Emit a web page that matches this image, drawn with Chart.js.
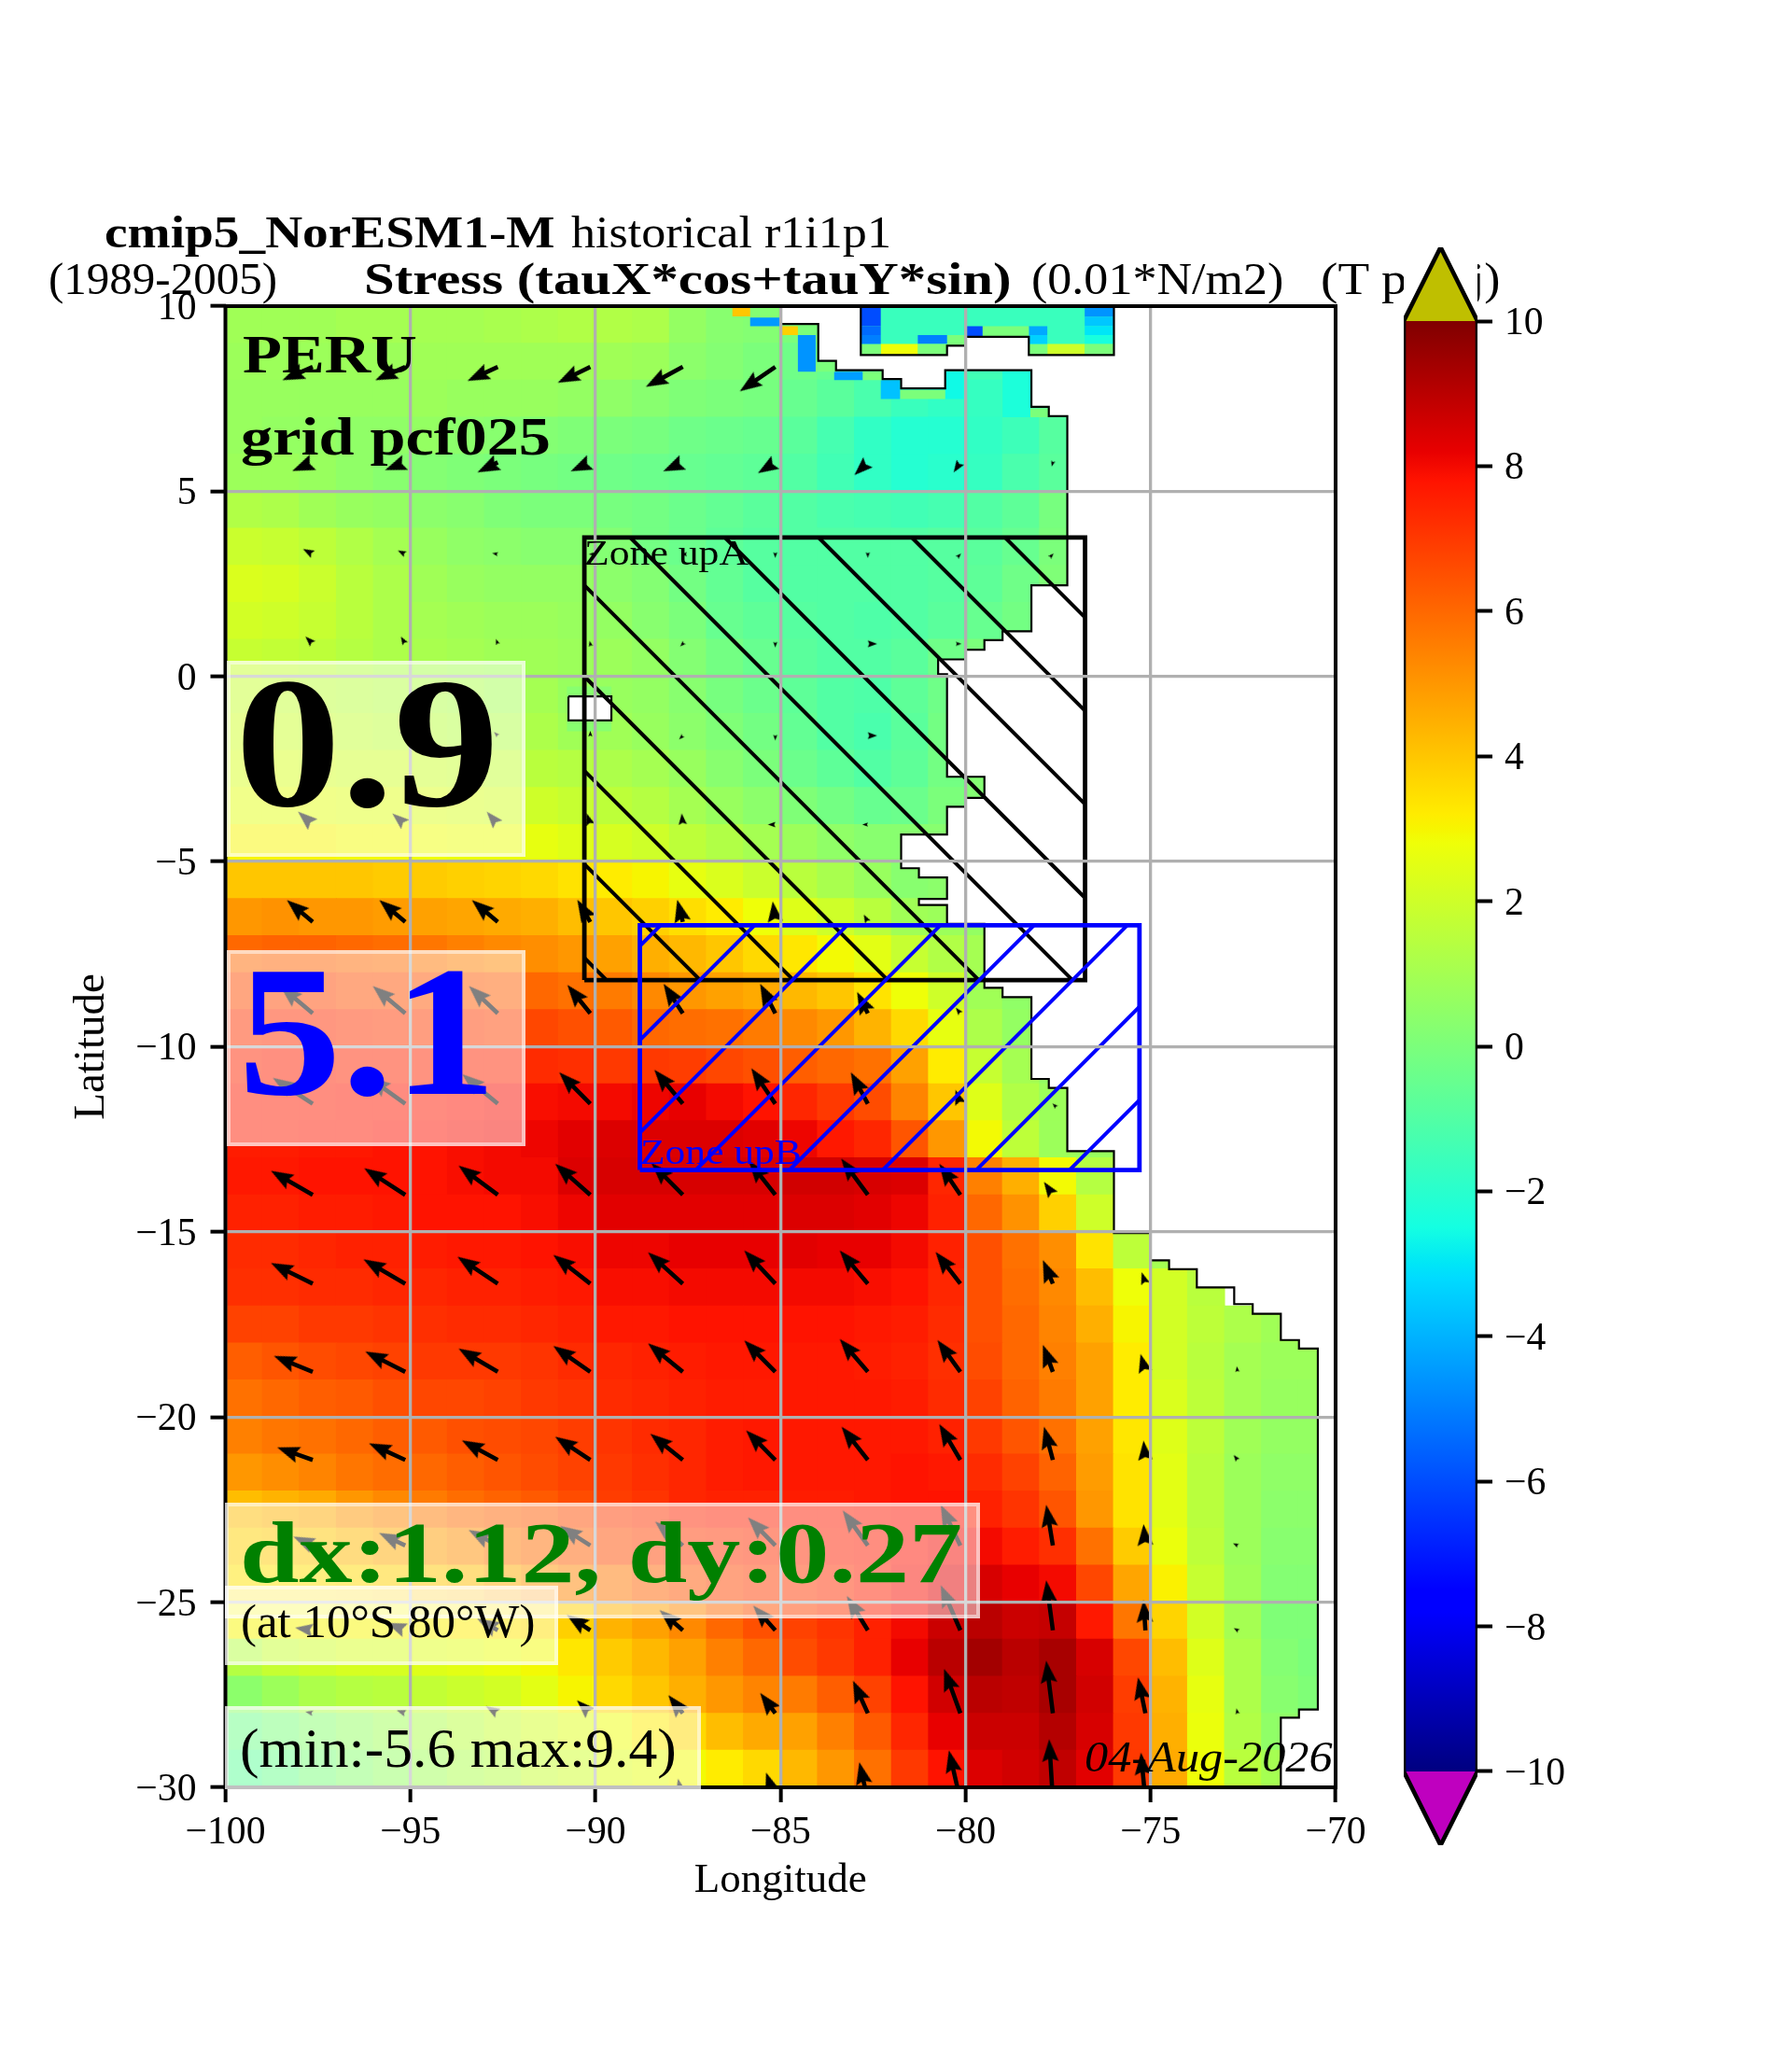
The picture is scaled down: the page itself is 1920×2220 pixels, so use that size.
<!DOCTYPE html>
<html>
<head>
<meta charset="utf-8">
<title>cmip5_NorESM1-M stress map</title>
<script src="https://cdn.jsdelivr.net/npm/chart.js@4"></script>
<style>
  body { margin: 0; background: #fff; }
  #page { position: relative; width: 1920px; height: 2220px; overflow: hidden; font-family: "Liberation Serif", serif; }
  canvas { position: absolute; left: 0; top: 0; }
  .label { position: absolute; white-space: nowrap; transform-origin: 0 0; }
  .box { position: absolute; box-sizing: border-box; background: rgba(255,255,255,0.5); border: 4px solid rgba(255,255,255,0.5); }
</style>
</head>
<body>
<div id="page">
  <canvas id="mapChart" width="1920" height="2220" style="z-index:0"></canvas>
  <div id="overMap" style="position:absolute;left:0;top:0;z-index:1"></div>
  <canvas id="colorBar" width="1920" height="2220" style="z-index:2"></canvas>
</div>
<script>
const N = null;

// cell centres of the map
const lons = [-99.5,-98.5,-97.5,-96.5,-95.5,-94.5,-93.5,-92.5,-91.5,-90.5,-89.5,-88.5,-87.5,-86.5,-85.5,-84.5,-83.5,-82.5,-81.5,-80.5,-79.5,-78.5,-77.5,-76.5,-75.5,-74.5,-73.5,-72.5,-71.5,-70.5];
const lats = [9.5,8.5,7.5,6.5,5.5,4.5,3.5,2.5,1.5,0.5,-0.5,-1.5,-2.5,-3.5,-4.5,-5.5,-6.5,-7.5,-8.5,-9.5,-10.5,-11.5,-12.5,-13.5,-14.5,-15.5,-16.5,-17.5,-18.5,-19.5,-20.5,-21.5,-22.5,-23.5,-24.5,-25.5,-26.5,-27.5,-28.5,-29.5];

// one row per latitude; rows stop where the land starts
const stress = [
  [.9,.9,.9,1,1,1,1,1.1,1.2,1.3,1.3,1.2,.6,.3,.2,0],
  [.8,.8,.8,.8,.8,.9,.9,.9,.9,.9,.9,.8,.4,.2,0,-.3,-.5,-.9,-1.2,-1.3,-1.4,-1.6],
  [.7,.7,.7,.7,.7,.8,.7,.7,.7,.6,.5,.3,.1,0,-.1,-.5,-.8,-1.2,-1.6,-1.8,-1.7,-1.6,-1.2],
  [.7,.6,.6,.5,.5,.6,.4,.3,.2,.1,0,-.1,-.3,-.4,-.5,-.8,-1.3,-1.8,-2.1,-2.1,-1.8,-1.5,-.9],
  [.8,.8,.7,.5,.3,.2,.1,0,-.1,-.2,-.3,-.4,-.5,-.6,-.7,-1,-1.4,-1.8,-2.1,-2,-1.7,-1.2,-.8],
  [1.3,1.2,.9,.7,.6,.4,.3,.1,0,0,-.1,-.2,-.4,-.6,-.8,-1,-1.2,-1.3,-1.4,-1.3,-1,-.7,-.1],
  [1.9,1.8,1.6,1.3,1,.7,.5,.4,.3,.3,.2,-.2,-.4,-.7,-.9,-1,-1,-1,-1,-.9,-.8,-.5,0],
  [2.3,2.2,1.9,1.5,1.2,.9,.7,.6,.6,.6,.4,.2,-.2,-.6,-.9,-1,-1,-1,-1,-.9,-.7,-.3,.1],
  [2.1,2,1.8,1.5,1.2,1,.9,.8,.8,.7,.6,.3,0,-.5,-.7,-.9,-1,-1.1,-1,-.8,-.5,-.2],
  [1.8,1.7,1.6,1.4,1.2,1.1,1,.9,.9,.8,.8,.6,.2,-.2,-.5,-.8,-1,-1,-.8,-.3,0],
  [1.8,1.7,1.6,1.5,1.4,1.3,1.2,1,1,.7,.7,.6,.3,-.1,-.4,-.7,-1,-1.1,-.7,-.3],
  [2,1.9,1.8,1.7,1.6,1.5,1.4,1.3,1.2,.9,.9,.7,.4,.1,-.2,-.6,-1,-1.2,-.8,-.2],
  [2.2,2.2,2.1,2,2,1.9,1.8,1.7,1.5,1.4,1.2,1,.7,.3,0,-.4,-.7,-1,-.7,-.2,.2],
  [2.5,2.5,2.5,2.4,2.4,2.3,2.2,2.1,2,1.8,1.6,1.4,1,.7,.4,.1,-.2,-.5,-.4,0,.2],
  [3,3,3,2.9,2.9,2.8,2.7,2.7,2.6,2.4,2.2,2,1.6,1.3,1,.8,.5,.3,.3,.3],
  [4,4,4,4,3.9,3.9,3.8,3.7,3.6,3.4,3.2,3,2.6,2.3,1.9,1.5,1.1,.7,.3,.4],
  [5,5.1,5,5,4.9,4.8,4.7,4.6,4.5,4.2,4,3.8,3.5,3.2,2.8,2.4,2,1.5,.9,.8,.6],
  [6,6.1,6.1,6,5.9,5.7,5.5,5.3,5.2,5,4.8,4.5,4.3,4,3.6,3.3,2.9,2.5,1.8,1.3,1],
  [6.6,6.7,6.7,6.5,6.5,6.4,6.3,6.2,6,5.8,5.6,5.3,5,4.8,4.6,4.3,4,3.4,2.8,2,.9,.5],
  [7.1,7.2,7.2,7.1,7,6.9,6.9,6.8,6.7,6.5,6.3,6,5.9,5.8,5.6,5.3,5,4.4,3.6,2.6,1.2,.6],
  [7.4,7.5,7.5,7.4,7.4,7.4,7.4,7.4,7.3,7.2,7,7,6.9,6.7,6.5,6.2,6,5.8,4.8,3.2,1.8,1,.6],
  [7.6,7.6,7.6,7.7,7.7,7.7,7.8,7.9,7.9,8,8,8.1,8.2,8,7.8,7.4,7,6.6,5.4,4,2.4,1.3,.8],
  [7.6,7.6,7.7,7.7,7.8,7.8,7.9,8,8.1,8.3,8.4,8.4,8.4,8.4,8.3,8.1,7.7,7.4,6.4,5,2.9,1.6,.8,.7],
  [7.7,7.7,7.8,7.8,7.8,7.8,7.9,8,8,8.4,8.5,8.5,8.5,8.5,8.5,8.6,8.6,8.5,8.4,7.4,5.5,4.5,2.9,1.4],
  [7.5,7.5,7.6,7.6,7.7,7.8,7.8,7.8,7.9,8.1,8.3,8.3,8.3,8.3,8.3,8.4,8.4,8.3,8.1,7.5,6,5.1,3.8,2],
  [7.3,7.3,7.4,7.5,7.5,7.6,7.7,7.7,7.8,7.9,8.1,8.1,8.2,8.2,8.2,8.3,8.2,8.2,8,7.5,6.5,5.8,5.2,3.4,1.6,1],
  [7.2,7.2,7.3,7.3,7.4,7.4,7.5,7.5,7.6,7.7,7.9,7.9,8,8,8,8,8,7.9,7.8,7.4,6.5,5.9,5.3,4.2,2.8,2.1,1.5],
  [6.8,6.8,7,7,7.1,7.2,7.3,7.3,7.4,7.5,7.7,7.7,7.8,7.8,7.8,7.8,7.8,7.7,7.6,7.3,6.5,6,5.4,4.5,3,2.1,1.6,1.2,.9],
  [6.2,6.4,6.6,6.7,6.8,7,7,7,7.1,7.3,7.4,7.5,7.6,7.7,7.7,7.7,7.7,7.6,7.5,7.2,6.6,6,5.5,4.8,3.2,2.1,1.5,1,.8,.8],
  [5.8,6,6.2,6.3,6.5,6.7,6.7,6.8,7,7.1,7.3,7.4,7.5,7.6,7.6,7.7,7.7,7.7,7.6,7.3,6.8,6.1,5.6,4.8,3.2,2.3,1.6,1,.7,.7],
  [5.5,5.7,5.8,6,6.2,6.3,6.5,6.6,6.7,6.9,7.1,7.3,7.4,7.6,7.7,7.7,7.7,7.7,7.7,7.5,7,6.4,5.8,4.8,3.3,2.4,1.6,.9,.6,.6],
  [5,5.2,5.4,5.7,5.9,6,6.2,6.4,6.6,6.8,7,7.2,7.4,7.6,7.7,7.7,7.7,7.7,7.8,7.7,7.3,6.8,6.1,4.9,3.4,2.5,1.5,.8,.5,.5],
  [4.2,4.4,4.6,5,5.3,5.6,5.9,6.1,6.3,6.6,6.9,7.1,7.4,7.5,7.5,7.6,7.6,7.7,7.8,7.8,7.5,7.1,6.4,5,3.4,2.5,1.5,.8,.4,.4],
  [3.8,3.9,4,4.3,4.6,4.9,5.2,5.6,5.9,6.2,6.6,6.8,7,7.1,7.2,7.3,7.5,7.6,7.8,8,8,7.6,7.2,5.8,3.9,2.7,1.6,.8,.3,.3],
  [3.4,3.4,3.5,3.6,3.8,4,4.2,4.6,5,5.4,5.7,6.1,6.4,6.7,6.9,7,7.2,7.5,7.9,8.3,8.5,8.2,8,6.7,4.7,3.1,1.8,.9,.2,.2],
  [3,3,3,3,3,3.1,3.2,3.3,3.5,3.8,4.4,4.8,5.3,6,6.5,6.8,7.1,7.5,8,8.7,9,8.7,8.8,7.7,5.7,3.7,2.1,1,.1,.1],
  [1.4,1.8,2,2.2,2.2,2.4,2.5,2.7,2.9,3.3,3.9,4.3,4.8,5.5,6,6.6,7,7.5,8.2,9,9.4,9,9.3,8.5,6.7,4.2,2.4,1.2,.2,0],
  [.4,.8,1.2,1.4,1.5,1.7,1.9,2.1,2.5,3,3.6,4,4.5,5,5.4,5.6,6.2,6.8,7.8,8.6,9,8.9,9.3,8.6,6.9,4.4,2.6,1.2,.3,.1],
  [-.3,0,.3,.6,.9,1.2,1.5,1.8,2.1,2.4,2.8,3.2,3.6,4.2,4.6,4.8,5.5,6.3,7.4,8.2,8.7,8.7,9.1,8.5,7,4.5,2.7,1.3,.5],
  [-.7,-.4,0,.3,.6,.9,1.2,1.4,1.8,2,2.4,2.6,2.9,3.2,3.6,4.3,5,5.8,7,7.8,8.4,8.6,8.9,8.3,7,4.6,2.8,1.5,1]
];

// small coastal cells: [lon west, lon east, lat south, lat north, value]
const coastCells = [
  [-86.3,-85.82,9.72,10,4], [-85.82,-85,9.46,9.69,-4.5], [-85,-84.53,9.22,9.46,3.8], [-84.53,-83.98,9.22,9.46,0],
  [-84.53,-84.05,8.23,9.22,-4.6], [-84.05,-83.5,8.23,8.5,0], [-83.55,-82.78,8,8.23,-4.4], [-82.78,-82.24,8,8.23,0],
  [-82.29,-81.77,7.49,8,-3.7], [-81.77,-80.55,7.49,7.73,0], [-80.55,-80.05,7.49,8.23,-2.6], [-79,-78.25,7,8.23,-2.3],
  [-78.25,-77.77,7,7.24,0], [-90.77,-89.57,-1.48,-0.27,0.3]
];
// sea patch along the top edge
const patchLine = [[-82.83,10],[-82.83,8.68],[-80.5,8.68],[-80.5,8.93],[-80,8.93],[-80,9.17],[-78.29,9.17],[-78.29,8.68],[-75.99,8.68],[-75.99,10]];
const patchValue = -1.6;
const patchCells = [
  [-82.83,-82.29,9.46,10,-6], [-82.83,-82.29,9.22,9.46,-5.4], [-82.83,-82.29,8.98,9.22,-5], [-82.83,-82.29,8.68,8.98,0],
  [-82.29,-81.29,8.68,8.98,2.8], [-81.29,-80.5,8.68,8.98,0], [-81.29,-80.5,8.98,9.22,-5], [-80.5,-80,8.93,9.22,0],
  [-80,-79.54,9.17,9.46,-6], [-79.54,-78.29,9.17,9.46,0], [-78.29,-77.79,9.22,9.46,-4.2], [-78.29,-77.79,8.98,9.22,-3.4],
  [-78.29,-77.79,8.68,8.98,0], [-77.79,-76.78,8.68,8.98,2], [-76.78,-75.99,8.68,8.98,0], [-76.78,-75.99,8.98,9.22,-2.4],
  [-76.78,-75.99,9.22,9.46,-3], [-76.78,-75.99,9.46,9.71,-3.6], [-76.78,-75.99,9.71,10,-4.6]
];
const islandLine = [[-90.73,-0.54],[-89.57,-0.54],[-89.57,-1.19],[-90.73,-1.19],[-90.73,-0.54]];

const coastLine = [[-84.99,10],[-84.99,9.52],[-83.98,9.52],[-83.98,8.52],[-83.5,8.52],[-83.5,8.27],[-82.24,8.27],[-82.24,8.03],[-81.74,8.03],[-81.74,7.78],[-80.55,7.78],[-80.55,8.27],[-78.22,8.27],[-78.22,7.28],[-77.75,7.28],[-77.75,7.03],[-77.25,7.03],[-77.25,2.46],[-78.22,2.46],[-78.22,1.22],[-79,1.22],[-79,.98],[-79.49,.98],[-79.49,.72],[-80,.72],[-80,.46],[-80.74,.46],[-80.74,.06],[-80.5,.06],
  [-80.5,-2.71],[-79.49,-2.71],[-79.49,-3.28],[-80,-3.28],[-80,-3.52],[-80.5,-3.52],[-80.5,-4.27],[-81.74,-4.27],[-81.74,-5.18],[-81.26,-5.18],[-81.26,-5.43],[-80.5,-5.43],[-80.5,-6.01],[-81.26,-6.01],[-81.26,-6.17],[-80.5,-6.17],[-80.5,-6.68],[-79.49,-6.68],[-79.49,-8.41],[-79,-8.41],[-79,-8.66],[-78.22,-8.66],[-78.22,-10.87],[-77.75,-10.87],[-77.75,-11.11],[-77.25,-11.11],[-77.25,-12.82],[-75.99,-12.82],
  [-75.99,-15.03],[-75.01,-15.03],[-75.01,-15.77],[-74.5,-15.77],[-74.5,-16.01],[-73.75,-16.01],[-73.75,-16.5],[-72.74,-16.5],[-72.74,-16.95],[-72.24,-16.95],[-72.24,-17.21],[-71.48,-17.21],[-71.48,-17.92],[-70.99,-17.92],[-70.99,-18.15],[-70.48,-18.15],[-70.48,-27.9],[-70.99,-27.9],[-70.99,-28.12],[-71.48,-28.12],[-71.48,-30]];

// wind arrows: tail positions and components, in degrees on the map
const quiverLons = [-97.64,-95.14,-92.64,-90.14,-87.64,-85.14,-82.64,-80.14,-77.64,-75.14,-72.65];
const quiverLats = [8.36,5.78,3.3,0.88,-1.6,-4,-6.63,-9.1,-11.54,-14,-16.4,-18.78,-21.16,-23.47,-25.76,-28,-30.35];
const quiverU = [
  [-.82,-.81,-.82,-.88,-1,-.96],
  [-.55,-.55,-.55,-.53,-.53,-.47,-.36,-.18,-.03],
  [-.26,-.2,-.15,-.04,-.04,0,0,.02,.02],
  [-.2,-.12,-.05,-.02,-.07,0,.25,.03],
  [-.2,-.15,-.1,0,-.1,0,.25],
  [-.4,-.35,-.3,-.1,-.03,-.2,-.15],
  [-.7,-.7,-.7,-.35,-.15,-.07,-.11],
  [-.88,-.88,-.78,-.62,-.52,-.41,-.29,-.12],
  [-1.08,-1,-.96,-.84,-.77,-.65,-.46,-.13,-.01],
  [-1.13,-1.11,-1.06,-.95,-.85,-.72,-.72,-.57,-.24],
  [-1.13,-1.13,-1.09,-1,-.94,-.84,-.76,-.67,-.27,-.1],
  [-1.05,-1.08,-1.06,-1,-.94,-.84,-.76,-.62,-.27,-.13,-.02],
  [-.96,-.98,-.97,-.95,-.88,-.79,-.71,-.57,-.24,-.05,-.1],
  [-.52,-.71,-.79,-.82,-.75,-.74,-.68,-.53,-.18,-.05,-.12],
  [-.48,-.5,-.56,-.64,-.63,-.6,-.57,-.53,-.18,-.05,-.1],
  [-.2,-.23,-.32,-.36,-.39,-.41,-.4,-.44,-.18,-.2,-.03],
  [0,0,-.08,-.1,-.13,-.25,-.23,-.31,-.1,-.12,-.01]
];
const quiverV = [
  [-.36,-.36,-.38,-.43,-.54,-.66],
  [-.23,-.21,-.27,-.24,-.24,-.29,-.34,-.27,-.11],
  [.14,.1,.03,0,0,-.1,-.1,.02,.02],
  [.2,.2,.13,.08,-.07,-.1,0,0],
  [.1,.1,.1,.13,-.1,-.13,0],
  [.35,.3,.35,.3,.3,0,0],
  [.59,.59,.59,.6,.6,.56,.2],
  [.74,.74,.74,.77,.8,.8,.58,.15],
  [.7,.72,.8,.85,.92,.96,.85,.37,.01],
  [.65,.72,.79,.84,.86,.92,.98,.84,.35],
  [.56,.66,.73,.78,.85,.9,.9,.86,.64,.31],
  [.43,.55,.63,.7,.77,.85,.89,.86,.73,.48,.15],
  [.34,.45,.53,.63,.71,.8,.9,.97,.9,.52,.13],
  [.24,.34,.42,.53,.65,.76,.95,1.1,1.1,.58,.06],
  [.07,.2,.32,.42,.55,.67,.93,1.22,1.35,.82,.06],
  [.04,.08,.19,.35,.49,.55,.88,1.2,1.42,.97,.13],
  [.2,.25,.35,.44,.58,.75,1.03,1.35,1.65,1.29,.3]
];

// zones and their hatch lines: [lon0, lat0, lon1, lat1]
const zoneA = [[-90.3,-8.2],[-90.3,3.75],[-76.77,3.75],[-76.77,-8.2],[-90.3,-8.2]];
const zoneB = [[-88.8,-13.33],[-88.8,-6.72],[-75.3,-6.72],[-75.3,-13.33],[-88.8,-13.33]];
const hatchA = [[-90.3,-7.6,-89.7,-8.2],[-90.3,-5.07,-87.17,-8.2],[-90.3,-2.55,-84.65,-8.2],[-90.3,0,-82.1,-8.2],[-90.3,2.46,-79.64,-8.2],[-89.06,3.75,-77.11,-8.2],[-86.5,3.75,-76.77,-5.98],[-83.97,3.75,-76.77,-3.45],[-81.45,3.75,-76.77,-.93],[-78.93,3.75,-76.77,1.59]];
const hatchB = [[-88.24,-6.72,-88.8,-7.28],[-85.7,-6.72,-88.8,-9.82],[-83.2,-6.72,-88.8,-12.32],[-80.68,-6.72,-87.29,-13.33],[-78.15,-6.72,-84.76,-13.33],[-75.63,-6.72,-82.24,-13.33],[-75.3,-8.92,-79.71,-13.33],[-75.3,-11.44,-77.19,-13.33]];

const colorbarTicks = [-10,-8,-6,-4,-2,0,2,4,6,8,10];

// jet colour table
const jetStops = [
  [0,0,0,128],[.11,0,0,255],[.125,0,0,255],[.34,0,219,255],[.35,0,230,247],[.375,20,255,226],[.64,239,255,8],[.65,247,245,0],[.66,255,236,0],[.89,255,19,0],[.91,232,0,0],[1,128,0,0]
];
function jet(v) {
  const t = Math.min(1, Math.max(0, (v + 10) / 20));
  for (let i = 1; i < jetStops.length; i++) {
    const a = jetStops[i - 1], b = jetStops[i];
    if (t <= b[0]) {
      const f = (t - a[0]) / (b[0] - a[0]);
      return `rgb(${Math.round(a[1] + (b[1] - a[1]) * f)},${Math.round(a[2] + (b[2] - a[2]) * f)},${Math.round(a[3] + (b[3] - a[3]) * f)})`;
    }
  }
  return 'rgb(128,0,0)';
}

function toPoints(list) {
  return list.map(p => ({ x: p[0], y: p[1] }));
}

function segments(list) {
  const pts = [];
  list.forEach(s => {
    pts.push({ x: s[0], y: s[1] }, { x: s[2], y: s[3] }, { x: NaN, y: NaN });
  });
  return pts;
}

function shape(points, color, order) {
  return { data: points, showLine: true, fill: 'shape', backgroundColor: color, borderWidth: 0, pointRadius: 0, order: order };
}

function outline(points, color, width, order) {
  return { data: points, showLine: true, fill: false, borderColor: color, borderWidth: width, pointRadius: 0, order: order };
}

function cellShape(c, order) {
  return shape(toPoints([[c[0],c[2]],[c[1],c[2]],[c[1],c[3]],[c[0],c[3]]]), jet(c[4]), order);
}

// heat cells
const heatPoints = [], heatColors = [];
lats.forEach((lat, r) => {
  lons.forEach((lon, c) => {
    const v = stress[r][c];
    if (v === undefined || v === N) return;
    heatPoints.push({ x: lon, y: lat });
    heatColors.push(jet(v));
  });
});

// arrow pieces
const PX_PER_DEG = 39.65;
const HEAD_LEN = 24;
const headCache = {};
function headCanvas(len) {
  const key = Math.round(len);
  if (headCache[key]) return headCache[key];
  const c = document.createElement('canvas');
  c.width = Math.ceil(key * 0.8) + 2;
  c.height = key + 2;
  const g = c.getContext('2d');
  const cx = c.width / 2, top = 1, hw = key * 0.37;
  g.fillStyle = '#000';
  g.beginPath();
  g.moveTo(cx, top);
  g.lineTo(cx + hw, top + key);
  g.lineTo(cx, top + key * 0.84);
  g.lineTo(cx - hw, top + key);
  g.closePath();
  g.fill();
  headCache[key] = c;
  return c;
}

const shaftPoints = [], headPoints = [], headStyles = [], headAngles = [];
quiverLats.forEach((lat, r) => {
  quiverU[r].forEach((u, c) => {
    const v = quiverV[r][c];
    const lon = quiverLons[c];
    const lenPx = Math.hypot(u, v) * PX_PER_DEG;
    const size = Math.max(6, Math.min(HEAD_LEN, lenPx));
    const ux = u / (Math.hypot(u, v) || 1), uy = v / (Math.hypot(u, v) || 1);
    const tipX = lon + u, tipY = lat + v;
    headPoints.push({ x: tipX - ux * size / 2 / PX_PER_DEG, y: tipY - uy * size / 2 / PX_PER_DEG });
    headStyles.push(headCanvas(size));
    headAngles.push(Math.atan2(u, v) * 180 / Math.PI);
    if (lenPx > HEAD_LEN) {
      const back = size * 0.8 / PX_PER_DEG;
      shaftPoints.push({ x: lon, y: lat }, { x: tipX - ux * back, y: tipY - uy * back }, { x: NaN, y: NaN });
    }
  });
});

const landPolygon = coastLine.concat([[-70,-30],[-70,10]]);

const mapDatasets = [
  {
    data: heatPoints,
    pointStyle: 'rect',
    pointBackgroundColor: heatColors,
    pointBorderWidth: 0,
    pointRadius: ctx => {
      const sx = ctx.chart.scales.x;
      return (Math.abs(sx.getPixelForValue(1) - sx.getPixelForValue(0)) + 1) / Math.SQRT2;
    },
    order: 90
  },
  shape(toPoints(landPolygon), '#fff', 80)
];
coastCells.forEach(c => mapDatasets.push(cellShape(c, 70)));
mapDatasets.push(shape(toPoints(patchLine), jet(patchValue), 68));
patchCells.forEach(c => mapDatasets.push(cellShape(c, 66)));
mapDatasets.push(shape(toPoints(islandLine), '#fff', 64));
mapDatasets.push(outline(toPoints(coastLine), '#000', 2.2, 60));
mapDatasets.push(outline(toPoints(patchLine), '#000', 2.2, 60));
mapDatasets.push(outline(toPoints(islandLine), '#000', 2.2, 60));
mapDatasets.push(outline(shaftPoints, '#000', 4.6, 42));
mapDatasets.push({
  data: headPoints,
  pointStyle: headStyles,
  rotation: headAngles,
  pointRadius: 4,
  order: 40
});
mapDatasets.push(outline(segments(hatchA), '#000', 4, 30));
mapDatasets.push(outline(toPoints(zoneA), '#000', 4.8, 28));
mapDatasets.push(outline(segments(hatchB), '#00f', 4, 26));
mapDatasets.push(outline(toPoints(zoneB), '#00f', 4.8, 24));

const TICK_FONT = { family: 'Liberation Serif', size: 41.67 };
const tickText = v => (v < 0 ? '\u2212' + Math.abs(v) : String(v));

// the top and right spines have no axis of their own
const framePlugin = {
  id: 'frame',
  afterDraw(chart) {
    const a = chart.chartArea, ctx = chart.ctx;
    ctx.save();
    ctx.strokeStyle = '#000';
    ctx.lineWidth = 4;
    ctx.strokeRect(a.left, a.top, a.right - a.left, a.bottom - a.top);
    ctx.restore();
  }
};

new Chart(document.getElementById('mapChart'), {
  type: 'scatter',
  data: { datasets: mapDatasets },
  plugins: [framePlugin],
  options: {
    responsive: false,
    animation: false,
    devicePixelRatio: 1,
    events: [],
    layout: { padding: { left: 70, right: 489, top: 328, bottom: 178 } },
    plugins: { legend: { display: false }, tooltip: { enabled: false } },
    scales: {
      x: {
        type: 'linear', min: -100, max: -70,
        afterFit: s => { s.height = 127; },
        border: { display: false },
        grid: { color: '#b0b0b0', lineWidth: 3.3, z: 1, tickLength: 16, tickColor: '#000', tickWidth: 4 },
        ticks: { stepSize: 5, color: '#000', font: TICK_FONT, padding: 8, maxRotation: 0, callback: tickText },
        title: { display: true, text: 'Longitude', color: '#000', font: { family: 'Liberation Serif', size: 45 }, padding: 0 }
      },
      y: {
        type: 'linear', min: -30, max: 10,
        afterFit: s => { s.width = 171.5; },
        border: { display: false },
        grid: { color: '#b0b0b0', lineWidth: 3.3, z: 1, tickLength: 16, tickColor: '#000', tickWidth: 4 },
        ticks: { stepSize: 5, color: '#000', font: TICK_FONT, padding: 15, labelOffset: 3, callback: tickText },
        title: { display: true, text: 'Latitude', color: '#000', font: { family: 'Liberation Serif', size: 47 }, padding: 0 }
      }
    }
  }
});

// colour bar on its own canvas so its white panel hides the end of the title
const cbTop = 11.017;
const whitePanel = {
  id: 'whitePanel',
  beforeDraw(chart) {
    const a = chart.chartArea;
    chart.ctx.save();
    chart.ctx.fillStyle = '#fff';
    chart.ctx.fillRect(a.left, a.top, a.right - a.left, a.bottom - a.top);
    chart.ctx.restore();
  }
};
function barGradient(ctx) {
  const { chart } = ctx;
  const sy = chart.scales.y;
  if (!sy) return '#000';
  const y0 = sy.getPixelForValue(-10), y1 = sy.getPixelForValue(10);
  if (!isFinite(y0) || !isFinite(y1)) return '#000';
  const g = chart.ctx.createLinearGradient(0, y0, 0, y1);
  jetStops.forEach(s => {
    g.addColorStop(s[0], `rgb(${s[1]},${s[2]},${s[3]})`);
  });
  return g;
}

new Chart(document.getElementById('colorBar'), {
  type: 'scatter',
  data: {
    datasets: [
      outline(toPoints([[0,-10],[0,10],[.5,cbTop],[1,10],[1,-10],[.5,-cbTop],[0,-10]]), '#000', 4.6, 1),
      shape(toPoints([[0,-10],[0,10],[1,10],[1,-10]]), barGradient, 2),
      shape(toPoints([[0,10],[.5,cbTop],[1,10]]), '#bfbf00', 2),
      shape(toPoints([[0,-10],[.5,-cbTop],[1,-10]]), '#bf00bf', 2)
    ]
  },
  plugins: [whitePanel],
  options: {
    responsive: false,
    animation: false,
    devicePixelRatio: 1,
    events: [],
    layout: { padding: { left: 1504, right: 0, top: 265, bottom: 243 } },
    plugins: { legend: { display: false }, tooltip: { enabled: false } },
    scales: {
      x: { type: 'linear', min: 0, max: 1, display: false },
      y: {
        type: 'linear', position: 'right', min: -cbTop, max: cbTop,
        afterFit: s => { s.width = 337; },
        afterBuildTicks: s => { s.ticks = colorbarTicks.map(v => ({ value: v })); },
        border: { display: false },
        grid: { drawOnChartArea: false, tickLength: 16, tickColor: '#000', tickWidth: 4 },
        ticks: { color: '#000', font: TICK_FONT, padding: 13, labelOffset: 3, callback: tickText }
      }
    }
  }
});

// page text: x0, x1, baseline in page pixels
const boxes = [
  [243,563,708,918],
  [243,563,1018,1228],
  [241,1050,1610,1734],
  [241,598,1699,1784],
  [241,751,1828,1917]
];
const labels = [
  { t: 'cmip5_NorESM1-M', x0: 112, x1: 595, y: 264, s: 48, w: 'bold' },
  { t: 'historical r1i1p1', x0: 612, x1: 955, y: 264, s: 48 },
  { t: '(1989-2005)', x0: 52, x1: 297, y: 314, s: 48 },
  { t: 'Stress (tauX*cos+tauY*sin)', x0: 390, x1: 1083, y: 314, s: 48, w: 'bold' },
  { t: '(0.01*N/m2)', x0: 1105, x1: 1375, y: 314, s: 48 },
  { t: '(T p', x0: 1415, x1: 1507, y: 314, s: 48 },
  { t: 'ro', x0: 1515, x1: 1570, y: 314, s: 48 },
  { t: 'j)', x0: 1576, x1: 1607, y: 314, s: 48 },
  { t: 'PERU', x0: 260, x1: 447, y: 398, s: 58, w: 'bold' },
  { t: 'grid pcf025', x0: 258, x1: 590, y: 486, s: 58, w: 'bold' },
  { t: 'Zone upA', x0: 626, x1: 802, y: 604, s: 38 },
  { t: 'Zone upB', x0: 686, x1: 859, y: 1246, s: 38, c: '#00f' },
  { t: '0.9', x0: 252, x1: 535, y: 859, s: 200, w: 'bold' },
  { t: '5.1', x0: 255, x1: 532, y: 1168, s: 200, w: 'bold', c: '#00f' },
  { t: 'dx:1.12, dy:0.27', x0: 257, x1: 1031, y: 1693, s: 94, w: 'bold', c: '#008000' },
  { t: '(at 10\u00b0S 80\u00b0W)', x0: 258, x1: 573, y: 1753, s: 50 },
  { t: '(min:-5.6 max:9.4)', x0: 257, x1: 725, y: 1892, s: 60 },
  { t: '04-Aug-2026', x0: 1162, x1: 1428, y: 1897, s: 46, st: 'italic' }
];

const overMap = document.getElementById('overMap');
boxes.forEach(b => {
  const d = document.createElement('div');
  d.className = 'box';
  d.style.left = b[0] + 'px';
  d.style.top = b[2] + 'px';
  d.style.width = (b[1] - b[0]) + 'px';
  d.style.height = (b[3] - b[2]) + 'px';
  overMap.appendChild(d);
});
labels.forEach(l => {
  const d = document.createElement('div');
  d.className = 'label';
  d.textContent = l.t;
  d.style.left = l.x0 + 'px';
  d.style.top = (l.y - l.s * 0.891) + 'px';
  d.style.fontSize = l.s + 'px';
  d.style.fontWeight = l.w || 'normal';
  d.style.fontStyle = l.st || 'normal';
  d.style.color = l.c || '#000';
  overMap.appendChild(d);
  d.style.transform = `scaleX(${(l.x1 - l.x0) / d.offsetWidth})`;
});
</script>
</body>
</html>
